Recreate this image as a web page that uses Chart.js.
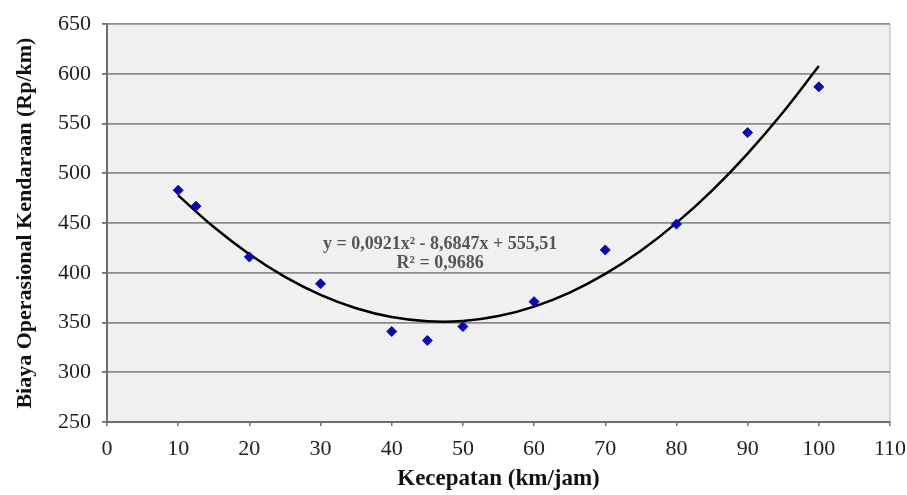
<!DOCTYPE html>
<html>
<head>
<meta charset="utf-8">
<script src="https://cdn.jsdelivr.net/npm/chart.js@4/dist/chart.umd.min.js"></script>
<style>
html,body{margin:0;padding:0;background:#fff;}
#wrap{width:907px;height:495px;}
</style>
</head>
<body>
<div id="wrap"><canvas id="c" width="907" height="495"></canvas></div>
<script>
// Observed points
const speed = [10, 12.5, 20, 30, 40, 45, 50, 60, 70, 80, 90, 100];
const cost  = [483, 467, 416, 389, 341, 332, 346, 371, 423, 449, 541, 587];

// Trendline readings (polynomial fit shown in the chart)
const trendX = [10, 15, 20, 25, 30, 35, 40, 45, 50, 55, 60, 65, 70, 75, 80, 85, 90, 95, 100];
const trendY = [477.9, 446.0, 418.7, 396.0, 377.9, 364.4, 355.5, 351.2, 351.5, 356.5, 366.0, 380.1, 398.9, 422.2, 450.2, 482.7, 519.9, 561.7, 608.0];

// Axis ticks
const xTicks = [0, 10, 20, 30, 40, 50, 60, 70, 80, 90, 100, 110];
const yTicks = [250, 300, 350, 400, 450, 500, 550, 600, 650];

const eqLine1 = "y = 0,0921x\u00B2 - 8,6847x + 555,51";
const eqLine2 = "R\u00B2 = 0,9686";
const eqPos = {x: 46.8, y1: 429, y2: 410};

const serif = "'Liberation Serif', 'Times New Roman', serif";

const bgPlugin = {
  id: 'bg',
  beforeDraw(chart) {
    const {ctx, chartArea: a} = chart;
    ctx.save();
    ctx.fillStyle = '#f0f0f0';
    ctx.fillRect(a.left, a.top, a.right - a.left, a.bottom - a.top);
    ctx.strokeStyle = '#c8c8c8';
    ctx.lineWidth = 1.5;
    ctx.beginPath();
    ctx.moveTo(a.right, a.top);
    ctx.lineTo(a.right, a.bottom);
    ctx.stroke();
    ctx.restore();
  },
  afterDatasetsDraw(chart) {
    const {ctx, scales} = chart;
    ctx.save();
    ctx.fillStyle = '#555';
    ctx.font = "bold 18px " + serif;
    ctx.textAlign = 'center';
    ctx.textBaseline = 'middle';
    const px = scales.x.getPixelForValue(eqPos.x);
    ctx.fillText(eqLine1, px, scales.y.getPixelForValue(eqPos.y1));
    ctx.fillText(eqLine2, px, scales.y.getPixelForValue(eqPos.y2));
    ctx.restore();
  }
};

new Chart(document.getElementById('c'), {
  type: 'scatter',
  data: {
    datasets: [
      {
        label: 'Trend',
        data: trendX.map((x, i) => ({x: x, y: trendY[i]})),
        showLine: true,
        borderColor: '#000',
        borderWidth: 2.5,
        pointRadius: 0,
        tension: 0.4,
        order: 2
      },
      {
        label: 'Data',
        data: speed.map((x, i) => ({x: x, y: cost[i]})),
        pointStyle: 'rectRot',
        pointRadius: 5,
        backgroundColor: '#0a0aaa',
        borderColor: '#0a0aaa',
        borderWidth: 1,
        order: 1
      }
    ]
  },
  options: {
    responsive: false,
    animation: false,
    events: [],
    layout: {padding: {top: 21, right: 0, left: 0, bottom: 0}},
    plugins: {legend: {display: false}, tooltip: {enabled: false}},
    scales: {
      x: {
        type: 'linear',
        min: 0, max: 110,
        afterBuildTicks(s) { s.ticks = xTicks.map(v => ({value: v})); },
        afterFit(s) { s.height = 73; s.paddingRight = 17; s.paddingLeft = 0; },
        border: {color: '#6e6e6e', width: 2},
        grid: {drawOnChartArea: false, color: '#6e6e6e', tickLength: 4, lineWidth: 1.5},
        ticks: {color: '#222', padding: 10, font: {family: serif, size: 22}, maxRotation: 0},
        title: {display: true, text: 'Kecepatan (km/jam)', color: '#111',
                font: {family: serif, size: 23, weight: 'bold'}, padding: {top: 2, bottom: 2}}
      },
      y: {
        type: 'linear',
        min: 250, max: 650,
        afterBuildTicks(s) { s.ticks = yTicks.map(v => ({value: v})); },
        afterFit(s) { s.width = 107; },
        border: {color: '#6e6e6e', width: 2},
        grid: {color: '#8c8c8c', lineWidth: 1.8, tickLength: 5, tickColor: '#6e6e6e'},
        ticks: {color: '#222', padding: 11, font: {family: serif, size: 22}},
        title: {display: true, text: 'Biaya Operasional Kendaraan (Rp/km)', color: '#111',
                font: {family: serif, size: 22, weight: 'bold'}, padding: {top: 12, bottom: 4}}
      }
    }
  },
  plugins: [bgPlugin]
});
</script>
</body>
</html>
